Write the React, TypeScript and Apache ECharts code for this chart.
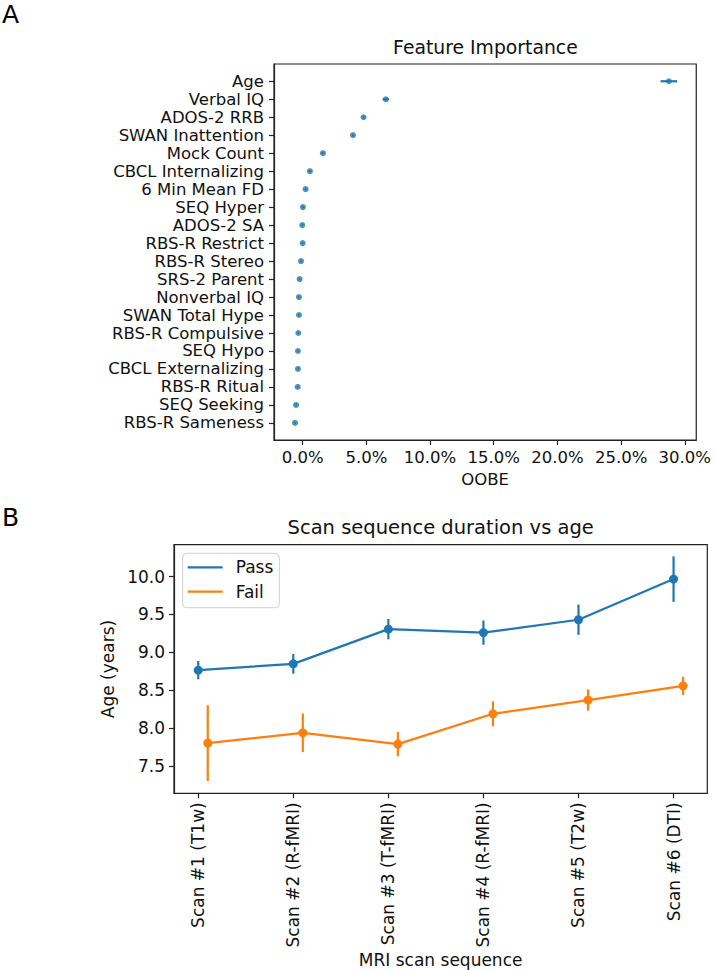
import React, { useEffect, useRef } from "react";
import * as echarts from "echarts";

const features = [
  "Age", "Verbal IQ", "ADOS-2 RRB", "SWAN Inattention", "Mock Count",
  "CBCL Internalizing", "6 Min Mean FD", "SEQ Hyper", "ADOS-2 SA", "RBS-R Restrict",
  "RBS-R Stereo", "SRS-2 Parent", "Nonverbal IQ", "SWAN Total Hype", "RBS-R Compulsive",
  "SEQ Hypo", "CBCL Externalizing", "RBS-R Ritual", "SEQ Seeking", "RBS-R Sameness",
];
const oobeMean = [28.75, 6.53, 4.78, 3.95, 1.59, 0.57, 0.23, 0.02, -0.03, 0.0, -0.13, -0.24, -0.29, -0.29, -0.34, -0.37, -0.37, -0.39, -0.52, -0.6];
const oobeErr = [0.65, 0.25, 0.08, 0.08, 0.08, 0.1, 0.06, 0.06, 0.05, 0.05, 0.05, 0.05, 0.05, 0.05, 0.05, 0.05, 0.05, 0.05, 0.05, 0.05];
const oobeTicks = [0, 5, 10, 15, 20, 25, 30];

const scans = ["Scan #1 (T1w)", "Scan #2 (R-fMRI)", "Scan #3 (T-fMRI)", "Scan #4 (R-fMRI)", "Scan #5 (T2w)", "Scan #6 (DTI)"];
const passMean = [8.765, 8.848, 9.306, 9.26, 9.43, 9.966];
const passErr = [0.12, 0.13, 0.135, 0.16, 0.2, 0.3];
const failMean = [7.802, 7.938, 7.789, 8.189, 8.37, 8.558];
const failErr = [0.5, 0.255, 0.16, 0.165, 0.14, 0.12];
const ageTicks = [7.5, 8.0, 8.5, 9.0, 9.5, 10.0];
const failDodge = 0.1;

const BLUE = "#1f77b4";
const ORANGE = "#ff7f0e";
const FONT = "DejaVu Sans";
const TXT = "#111";
const SPINE = "#222";

function hErrRender(color: string, width: number) {
  return (params: any, api: any) => {
    const x = api.value(0);
    const y = api.value(1);
    const e = api.value(2);
    const p1 = api.coord([x - e, y]);
    const p2 = api.coord([x + e, y]);
    return {
      type: "line",
      shape: { x1: p1[0], y1: p1[1], x2: p2[0], y2: p2[1] },
      style: { stroke: color, lineWidth: width },
    };
  };
}
function vErrRender(color: string, width: number) {
  return (params: any, api: any) => {
    const x = api.value(0);
    const y = api.value(1);
    const e = api.value(2);
    const p1 = api.coord([x, y - e]);
    const p2 = api.coord([x, y + e]);
    return {
      type: "line",
      shape: { x1: p1[0], y1: p1[1], x2: p2[0], y2: p2[1] },
      style: { stroke: color, lineWidth: width },
    };
  };
}

export default function App() {
  const ref = useRef<HTMLDivElement>(null);
  useEffect(() => {
    if (!ref.current) return;
    const chart = echarts.init(ref.current, undefined, { renderer: "svg" });
    const idx = features.map((_, i) => i);
    const scanIdx = scans.map((_, i) => i);
    const axisCommon = {
      axisLine: { show: true, onZero: false, lineStyle: { color: SPINE, width: 1.2 } },
      axisTick: { show: true, length: 5, lineStyle: { color: SPINE, width: 1.2 } },
      splitLine: { show: false },
    };
    const option: any = {
      animation: false,
      backgroundColor: "#fff",
      textStyle: { fontFamily: FONT },
      graphic: [
        { type: "text", left: 2, top: 2, style: { text: "A", fontSize: 25, fontFamily: FONT, fill: "#000" } },
        { type: "text", left: 2, top: 505, style: { text: "B", fontSize: 25, fontFamily: FONT, fill: "#000" } },
        {
          type: "text", x: 485.4, y: 47,
          style: { text: "Feature Importance", fontSize: 18.8, fontFamily: FONT, fill: TXT, align: "center", verticalAlign: "middle" },
        },
        {
          type: "text", x: 440.7, y: 527,
          style: { text: "Scan sequence duration vs age", fontSize: 19.5, fontFamily: FONT, fill: TXT, align: "center", verticalAlign: "middle" },
        },
      ],
      grid: [
        { left: 274, top: 64, width: 422.7, height: 376, show: true, borderColor: SPINE, borderWidth: 1.2, backgroundColor: "transparent" },
        { left: 174, top: 544.7, width: 533.3, height: 248.6, show: true, borderColor: SPINE, borderWidth: 1.2, backgroundColor: "transparent" },
      ],
      xAxis: [
        {
          ...axisCommon,
          gridIndex: 0,
          type: "value",
          min: -2.25,
          max: 30.9,
          name: "OOBE",
          nameLocation: "middle",
          nameGap: 31,
          nameTextStyle: { fontSize: 16.5, color: TXT, fontFamily: FONT },
          axisTick: { ...axisCommon.axisTick, customValues: oobeTicks },
          axisLabel: {
            customValues: oobeTicks,
            formatter: (v: number) => v.toFixed(1) + "%",
            fontSize: 16.5, color: TXT, margin: 9, fontFamily: FONT,
          },
        },
        {
          ...axisCommon,
          gridIndex: 1,
          type: "value",
          min: -0.255,
          max: 5.355,
          name: "MRI scan sequence",
          nameLocation: "middle",
          nameGap: 156,
          nameTextStyle: { fontSize: 17, color: TXT, fontFamily: FONT },
          axisTick: { ...axisCommon.axisTick, customValues: scanIdx },
          axisLabel: {
            customValues: scanIdx,
            formatter: (v: number) => scans[Math.round(v)] ?? "",
            rotate: 90,
            fontSize: 17, color: TXT, margin: 9, fontFamily: FONT,
          },
        },
      ],
      yAxis: [
        {
          ...axisCommon,
          gridIndex: 0,
          type: "value",
          inverse: true,
          min: -0.96,
          max: 19.95,
          axisTick: { ...axisCommon.axisTick, customValues: idx },
          axisLabel: {
            customValues: idx,
            formatter: (v: number) => features[Math.round(v)] ?? "",
            fontSize: 16.5, color: TXT, margin: 10, fontFamily: FONT,
          },
        },
        {
          ...axisCommon,
          gridIndex: 1,
          type: "value",
          min: 7.14,
          max: 10.42,
          name: "Age (years)",
          nameLocation: "middle",
          nameRotate: 90,
          nameGap: 49,
          nameTextStyle: { fontSize: 17, color: TXT, fontFamily: FONT },
          axisTick: { ...axisCommon.axisTick, customValues: ageTicks },
          axisLabel: {
            customValues: ageTicks,
            formatter: (v: number) => v.toFixed(1),
            fontSize: 17, color: TXT, margin: 9, fontFamily: FONT,
          },
        },
      ],
      legend: {
        left: 182.7,
        top: 553.3,
        orient: "vertical",
        data: [
          { name: "Pass", icon: "rect" },
          { name: "Fail", icon: "rect" },
        ],
        itemWidth: 35,
        itemHeight: 2.2,
        itemGap: 4.4,
        padding: [4, 6, 6, 5],
        backgroundColor: "#fff",
        borderColor: "#d0d0d0",
        borderWidth: 1,
        borderRadius: 4,
        textStyle: { fontSize: 17, color: TXT, fontFamily: FONT, lineHeight: 20, padding: [0, 0, 0, 8] },
      },
      series: [
        {
          type: "custom",
          name: "oobeErr",
          xAxisIndex: 0,
          yAxisIndex: 0,
          renderItem: hErrRender(BLUE, 2.2),
          data: oobeMean.map((v, i) => [v, i, oobeErr[i]]),
          z: 2,
        },
        {
          type: "scatter",
          name: "OOBE",
          xAxisIndex: 0,
          yAxisIndex: 0,
          symbol: "circle",
          symbolSize: 6,
          itemStyle: { color: BLUE },
          data: oobeMean.map((v, i) => [v, i]),
          z: 3,
        },
        {
          type: "custom",
          name: "passErr",
          xAxisIndex: 1,
          yAxisIndex: 1,
          renderItem: vErrRender(BLUE, 2.2),
          data: passMean.map((v, i) => [i, v, passErr[i]]),
          z: 2,
        },
        {
          type: "custom",
          name: "failErr",
          xAxisIndex: 1,
          yAxisIndex: 1,
          renderItem: vErrRender(ORANGE, 2.2),
          data: failMean.map((v, i) => [i + failDodge, v, failErr[i]]),
          z: 2,
        },
        {
          type: "line",
          name: "Pass",
          xAxisIndex: 1,
          yAxisIndex: 1,
          symbol: "circle",
          symbolSize: 9,
          showAllSymbol: true,
          color: BLUE,
          itemStyle: { color: BLUE },
          lineStyle: { color: BLUE, width: 2.2 },
          data: passMean.map((v, i) => [i, v]),
          z: 3,
        },
        {
          type: "line",
          name: "Fail",
          xAxisIndex: 1,
          yAxisIndex: 1,
          symbol: "circle",
          symbolSize: 9,
          showAllSymbol: true,
          color: ORANGE,
          itemStyle: { color: ORANGE },
          lineStyle: { color: ORANGE, width: 2.2 },
          data: failMean.map((v, i) => [i + failDodge, v]),
          z: 3,
        },
      ],
    };
    chart.setOption(option);
    return () => chart.dispose();
  }, []);
  return (
    <div
      ref={ref}
      style={{ position: "fixed", left: 0, top: 0, width: 714, height: 970, background: "#fff" }}
    />
  );
}
